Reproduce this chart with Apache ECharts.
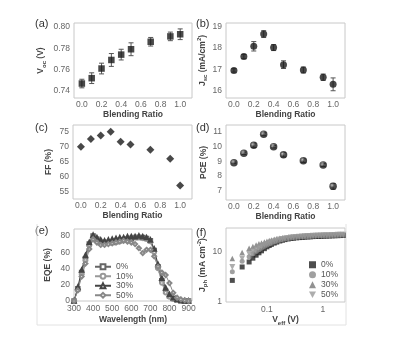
<!DOCTYPE html>
<html>
<head>
<meta charset="utf-8">
<script src="https://cdn.jsdelivr.net/npm/echarts@6/dist/echarts.min.js"></script>
<style>
  html, body { margin: 0; padding: 0; background: #fff; }
  #main { width: 397px; height: 352px; }
</style>
</head>
<body>
<div id="main"></div>
<script>
// blending ratio panels (a)-(d)
var ratio = [0, 0.1, 0.2, 0.3, 0.4, 0.5, 0.7, 0.9, 1.0];
var voc = [0.747, 0.752, 0.761, 0.769, 0.774, 0.779, 0.786, 0.791, 0.793];
var vocErr = [0.004, 0.005, 0.005, 0.006, 0.005, 0.006, 0.004, 0.004, 0.005];
var jsc = [16.95, 17.6, 18.08, 18.65, 18.02, 17.22, 16.97, 16.63, 16.3];
var jscErr = [0.08, 0.1, 0.22, 0.16, 0.14, 0.18, 0.14, 0.15, 0.3];
var ff = [70, 72.6, 73.8, 75, 71.7, 70.8, 69, 66, 57];
var pce = [8.9, 9.55, 10.1, 10.85, 10.0, 9.45, 9.05, 8.75, 7.3];
var pceErr = [0.05, 0.08, 0.15, 0.1, 0.08, 0.15, 0.12, 0.1, 0.2];

// EQE (e)
var wavelength = [300, 320, 340, 360, 380, 400, 420, 440, 460, 480, 500, 520, 540, 560, 580, 600,
  620, 640, 660, 680, 700, 720, 740, 760, 780, 800, 820, 840, 860, 880, 900];
var eqe0 = [0, 15, 35, 52, 70, 80, 76, 72, 71, 72, 72, 73, 74, 75, 76, 77, 78, 78, 78, 77, 74, 62, 42, 25, 12, 6, 3, 1, 0, 0, 0];
var eqe10 = [0, 14, 33, 50, 68, 79, 77, 74, 73, 73, 74, 75, 75, 76, 77, 78, 78, 78, 77, 76, 73, 60, 40, 22, 10, 5, 2, 1, 0, 0, 0];
var eqe30 = [0, 17, 38, 56, 72, 81, 78, 75, 74, 75, 76, 77, 78, 78, 79, 79, 79, 80, 79, 78, 75, 64, 45, 28, 16, 8, 4, 2, 1, 0, 0];
var eqe50 = [0, 13, 30, 46, 64, 76, 72, 69, 69, 70, 71, 72, 73, 74, 73, 72, 70, 65, 59, 63, 63, 55, 42, 35, 32, 22, 10, 4, 2, 1, 0];

// Jph vs Veff (f)
var veff = [0.024, 0.036, 0.048, 0.056, 0.064, 0.072, 0.08, 0.09, 0.1, 0.11, 0.12, 0.135, 0.15, 0.17, 0.19,
  0.21, 0.24, 0.27, 0.3, 0.34, 0.38, 0.43, 0.48, 0.54, 0.6, 0.67, 0.75, 0.84, 0.94, 1.05, 1.18, 1.32,
  1.48, 1.66, 1.86, 2.08, 2.33];
var jph0 = [2.7, 5.0, 6.3, 7.5, 8.6, 9.6, 10.5, 11.6, 12.6, 13.4, 14.1, 15.0, 15.7, 16.5, 17.1, 17.6, 18.1,
  18.5, 18.8, 19.1, 19.3, 19.5, 19.7, 19.9, 20.0, 20.2, 20.3, 20.4, 20.5, 20.6, 20.7, 20.8, 20.9, 21.0, 21.1, 21.2, 21.3];
var jph10 = [4.0, 6.5, 8.0, 9.2, 10.2, 11.1, 11.8, 12.8, 13.6, 14.3, 14.9, 15.7, 16.3, 17.1, 17.6, 18.1, 18.6,
  19.0, 19.3, 19.6, 19.8, 20.0, 20.2, 20.4, 20.5, 20.7, 20.8, 20.9, 21.0, 21.1, 21.2, 21.3, 21.4, 21.5, 21.6, 21.7, 21.8];
var jph30 = [7.4, 9.7, 11.8, 12.8, 13.7, 14.5, 15.1, 15.8, 16.4, 16.9, 17.3, 17.8, 18.2, 18.7, 19.0, 19.3, 19.6,
  19.9, 20.1, 20.3, 20.5, 20.7, 20.9, 21.0, 21.2, 21.3, 21.4, 21.5, 21.6, 21.7, 21.8, 21.9, 22.0, 22.1, 22.2, 22.3, 22.4];
var jph50 = [5.0, 7.4, 9.2, 10.3, 11.3, 12.1, 12.8, 13.7, 14.4, 15.0, 15.6, 16.3, 16.9, 17.6, 18.1, 18.5, 19.0,
  19.3, 19.6, 19.9, 20.1, 20.3, 20.5, 20.7, 20.8, 21.0, 21.1, 21.2, 21.3, 21.4, 21.5, 21.6, 21.7, 21.8, 21.9, 22.0, 22.1];

var ratioTicks = [0, 0.2, 0.4, 0.6, 0.8, 1.0];
var vocTicks = [0.74, 0.76, 0.78, 0.80];
var jscTicks = [16, 17, 18, 19];
var ffTicks = [55, 60, 65, 70, 75];
var pceTicks = [7, 8, 9, 10, 11];
var eqeXTicks = [300, 400, 500, 600, 700, 800, 900];
var eqeYTicks = [0, 20, 40, 60, 80];

var FONT = 'Liberation Sans, Arial, sans-serif';
var labelStyle = { color: '#666', fontSize: 8.5, fontFamily: FONT };
var nameStyle = { color: '#444', fontSize: 8.5, fontWeight: 'bold', fontFamily: FONT };
var richName = {
  b: { fontSize: 8.5, fontWeight: 'bold', color: '#444', fontFamily: FONT, lineHeight: 12 },
  s: { fontSize: 6, fontWeight: 'bold', color: '#444', fontFamily: FONT, lineHeight: 12, verticalAlign: 'bottom', padding: [4, 0, 0, 0] },
  p: { fontSize: 6, fontWeight: 'bold', color: '#444', fontFamily: FONT, lineHeight: 12, verticalAlign: 'top', padding: [0, 0, 4, 0] }
};

function zip(xs, ys) {
  return xs.map(function (x, i) { return [x, ys[i]]; });
}
function errData(xs, ys, es) {
  return xs.map(function (x, i) { return [x, ys[i] - es[i], ys[i] + es[i]]; });
}
function errBar(params, api) {
  var x = api.value(0);
  var lo = api.coord([x, api.value(1)]);
  var hi = api.coord([x, api.value(2)]);
  var w = 2.5;
  var st = { stroke: '#555', lineWidth: 1 };
  return {
    type: 'group',
    children: [
      { type: 'line', shape: { x1: lo[0], y1: lo[1], x2: hi[0], y2: hi[1] }, style: st },
      { type: 'line', shape: { x1: lo[0] - w, y1: lo[1], x2: lo[0] + w, y2: lo[1] }, style: st },
      { type: 'line', shape: { x1: hi[0] - w, y1: hi[1], x2: hi[0] + w, y2: hi[1] }, style: st }
    ]
  };
}

function ratioX(idx, gap) {
  return {
    type: 'value', gridIndex: idx, min: -0.08, max: 1.12,
    axisLine: { show: false }, axisTick: { show: false }, splitLine: { show: false },
    axisLabel: Object.assign({ customValues: ratioTicks, margin: 2, formatter: function (v) { return v.toFixed(1); } }, labelStyle),
    name: 'Blending Ratio', nameLocation: 'middle', nameGap: gap, nameTextStyle: nameStyle
  };
}
function valY(idx, min, max, ticks, digits, name, gap) {
  return {
    type: 'value', gridIndex: idx, min: min, max: max,
    axisLine: { show: false }, axisTick: { show: false }, splitLine: { show: false },
    axisLabel: Object.assign({ customValues: ticks, margin: 4, formatter: function (v) { return v.toFixed(digits); } }, labelStyle),
    name: name, nameLocation: 'middle', nameGap: gap, nameRotate: 90,
    nameTextStyle: Object.assign({ rich: richName }, nameStyle)
  };
}

var sphere = {
  type: 'radial', x: 0.38, y: 0.35, r: 0.7,
  colorStops: [{ offset: 0, color: '#bbb' }, { offset: 0.45, color: '#222' }, { offset: 1, color: '#111' }]
};
var downTri = 'path://M0,0L10,0L5,9Z';
var legendText = { color: '#555', fontSize: 8.5, fontFamily: FONT, lineHeight: 9.5 };

var chart = echarts.init(document.getElementById('main'));
var option = {
  backgroundColor: '#fff',
  animation: false,
  textStyle: { fontFamily: FONT },
  grid: [
    { left: 74, top: 23, width: 118, height: 75 },
    { left: 226, top: 23, width: 119, height: 75 },
    { left: 73, top: 125, width: 119, height: 74 },
    { left: 226, top: 125, width: 119, height: 75 },
    { left: 74, top: 229, width: 118, height: 72 },
    { left: 226, top: 228, width: 119, height: 74 }
  ].map(function (g) {
    return Object.assign({ show: true, borderColor: '#c8c8c8', borderWidth: 1, backgroundColor: 'transparent' }, g);
  }),
  xAxis: [
    ratioX(0, 11),
    ratioX(1, 11),
    ratioX(2, 12),
    ratioX(3, 11),
    {
      type: 'value', gridIndex: 4, min: 300, max: 918,
      axisLine: { show: false }, axisTick: { show: false }, splitLine: { show: false },
      axisLabel: Object.assign({ customValues: eqeXTicks, margin: 3 }, labelStyle),
      name: 'Wavelength (nm)', nameLocation: 'middle', nameGap: 14, nameTextStyle: nameStyle
    },
    {
      type: 'log', gridIndex: 5, min: 0.0185, max: 2.5, logBase: 10,
      axisLine: { show: false }, axisTick: { show: false }, splitLine: { show: false }, minorTick: { show: false },
      axisLabel: Object.assign({ margin: 3, showMinLabel: false, showMaxLabel: false }, labelStyle),
      name: '{b|V}{s|eff}{b| (V)}', nameLocation: 'middle', nameGap: 12,
      nameTextStyle: Object.assign({ rich: richName }, nameStyle)
    }
  ],
  yAxis: [
    valY(0, 0.7335, 0.8035, vocTicks, 2, '{b|V}{s|oc}{b| (V)}', 27),
    valY(1, 15.66, 19.17, jscTicks, 0, '{b|J}{s|sc}{b| (mA/cm}{p|2}{b|)}', 16),
    valY(2, 52.5, 77.3, ffTicks, 0, 'FF (%)', 20),
    valY(3, 6.37, 11.48, pceTicks, 0, 'PCE (%)', 16),
    valY(4, 0, 88.6, eqeYTicks, 0, 'EQE (%)', 22),
    {
      type: 'log', gridIndex: 5, min: 1, max: 30, logBase: 10,
      axisLine: { show: false }, axisTick: { show: false }, splitLine: { show: false }, minorTick: { show: false },
      axisLabel: Object.assign({ margin: 4, showMaxLabel: false }, labelStyle),
      name: '{b|J}{s|ph}{b| (mA cm}{p|-2}{b|)}', nameLocation: 'middle', nameGap: 16, nameRotate: 90,
      nameTextStyle: Object.assign({ rich: richName }, nameStyle)
    }
  ],
  legend: [
    {
      left: 94, top: 262, orient: 'vertical', itemWidth: 16, itemHeight: 6, itemGap: 0, padding: 0,
      textStyle: legendText,
      data: ['0%', '10%', '30%', '50%']
    },
    {
      left: 309, top: 260, orient: 'vertical', itemWidth: 7, itemHeight: 7, itemGap: 0.5, padding: 0,
      textStyle: legendText,
      data: ['0% ', '10% ', '30% ', '50% ']
    }
  ],
  series: [
    { type: 'custom', xAxisIndex: 0, yAxisIndex: 0, renderItem: errBar, encode: { x: 0, y: [1, 2] }, data: errData(ratio, voc, vocErr), silent: true },
    { type: 'scatter', xAxisIndex: 0, yAxisIndex: 0, symbol: 'rect', symbolSize: 6.5, itemStyle: { color: '#1a1a1a' }, data: zip(ratio, voc), z: 3 },

    { type: 'custom', xAxisIndex: 1, yAxisIndex: 1, renderItem: errBar, encode: { x: 0, y: [1, 2] }, data: errData(ratio, jsc, jscErr), silent: true },
    { type: 'scatter', xAxisIndex: 1, yAxisIndex: 1, symbol: 'circle', symbolSize: 7, itemStyle: { color: '#1a1a1a' }, data: zip(ratio, jsc), z: 3 },

    { type: 'scatter', xAxisIndex: 2, yAxisIndex: 2, symbol: 'diamond', symbolSize: 8, itemStyle: { color: '#1a1a1a' }, data: zip(ratio, ff), z: 3 },

    { type: 'custom', xAxisIndex: 3, yAxisIndex: 3, renderItem: errBar, encode: { x: 0, y: [1, 2] }, data: errData(ratio, pce, pceErr), silent: true },
    { type: 'scatter', xAxisIndex: 3, yAxisIndex: 3, symbol: 'circle', symbolSize: 7.5, itemStyle: { color: sphere }, data: zip(ratio, pce), z: 3 },

    { name: '0%', type: 'line', xAxisIndex: 4, yAxisIndex: 4, symbol: 'emptyRect', symbolSize: 3.5, showAllSymbol: true,
      itemStyle: { color: '#666' }, lineStyle: { color: '#666', width: 1 }, data: zip(wavelength, eqe0) },
    { name: '10%', type: 'line', xAxisIndex: 4, yAxisIndex: 4, symbol: 'emptyCircle', symbolSize: 3.5, showAllSymbol: true,
      itemStyle: { color: '#999' }, lineStyle: { color: '#999', width: 1 }, data: zip(wavelength, eqe10) },
    { name: '30%', type: 'line', xAxisIndex: 4, yAxisIndex: 4, symbol: 'emptyTriangle', symbolSize: 3.5, showAllSymbol: true,
      itemStyle: { color: '#444' }, lineStyle: { color: '#444', width: 1 }, data: zip(wavelength, eqe30) },
    { name: '50%', type: 'line', xAxisIndex: 4, yAxisIndex: 4, symbol: 'emptyDiamond', symbolSize: 4, showAllSymbol: true,
      itemStyle: { color: '#888' }, lineStyle: { color: '#888', width: 1 }, data: zip(wavelength, eqe50) },

    { name: '0% ', type: 'scatter', xAxisIndex: 5, yAxisIndex: 5, symbol: 'rect', symbolSize: 5, itemStyle: { color: '#222' }, data: zip(veff, jph0) },
    { name: '10% ', type: 'scatter', xAxisIndex: 5, yAxisIndex: 5, symbol: 'circle', symbolSize: 5, itemStyle: { color: '#888' }, data: zip(veff, jph10) },
    { name: '30% ', type: 'scatter', xAxisIndex: 5, yAxisIndex: 5, symbol: 'triangle', symbolSize: 5.5, itemStyle: { color: '#777' }, data: zip(veff, jph30) },
    { name: '50% ', type: 'scatter', xAxisIndex: 5, yAxisIndex: 5, symbol: downTri, symbolSize: 6, itemStyle: { color: '#999' }, data: zip(veff, jph50) }
  ],
  graphic: [
    { type: 'text', left: 35, top: 18, style: { text: '(a)', fontSize: 11, fill: '#333', fontFamily: FONT } },
    { type: 'text', left: 196, top: 18, style: { text: '(b)', fontSize: 11, fill: '#333', fontFamily: FONT } },
    { type: 'text', left: 35, top: 122, style: { text: '(c)', fontSize: 11, fill: '#333', fontFamily: FONT } },
    { type: 'text', left: 196, top: 122, style: { text: '(d)', fontSize: 11, fill: '#333', fontFamily: FONT } },
    { type: 'text', left: 35, top: 225, style: { text: '(e)', fontSize: 11, fill: '#333', fontFamily: FONT } },
    { type: 'text', left: 196, top: 227, style: { text: '(f)', fontSize: 11, fill: '#333', fontFamily: FONT } },
    { type: 'polyline', silent: true, shape: { points: [[37, 224], [37, 325], [346, 325], [346, 224]] },
      style: { stroke: '#e2e2e2', lineWidth: 1, fill: null } }
  ]
};
chart.setOption(option);
</script>
</body>
</html>
